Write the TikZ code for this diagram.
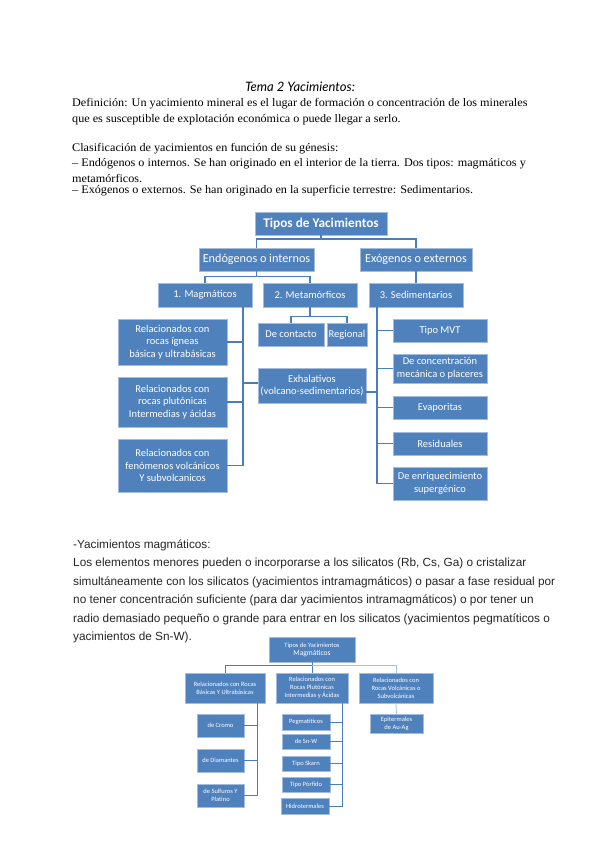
\documentclass[tikz,border=0pt]{standalone}
\usepackage{fontspec}
\setmainfont{Liberation Serif}
\newfontfamily\bodyf[FakeStretch=1.05]{Liberation Serif}
\newfontfamily\diagf{Carlito}
\newfontfamily\arialf{Liberation Sans}
\newfontfamily\titlef{Lato}
\usetikzlibrary{calc}
\definecolor{boxblue}{HTML}{4F81BD}
\definecolor{lineblue}{HTML}{4A7EBB}
\definecolor{edgeblue}{HTML}{A3BCDD}
\definecolor{paleline}{HTML}{A8BFDD}
\begin{document}
\begin{tikzpicture}[x=1pt,y=-1pt,
  bx/.style={fill=boxblue,draw=edgeblue,line width=0.7pt,text=white,inner sep=0.5pt,align=center},
  lvA/.style={bx,font=\diagf\bfseries\fontsize{13.3}{15}\selectfont},
  lvB/.style={bx,font=\diagf\fontsize{12.2}{14}\selectfont},
  lvC/.style={bx,font=\diagf\fontsize{10.5}{12.6}\selectfont},
  lvD/.style={bx,line width=0.5pt,font=\diagf\fontsize{6.5}{8}\selectfont},
  conn/.style={draw=lineblue,line width=1.3pt},
  connb/.style={draw=lineblue,line width=0.8pt},
  connp/.style={draw=paleline,line width=0.8pt},
  bodyline/.style={anchor=west,inner sep=0pt,font=\bodyf\fontsize{11.6}{13}\selectfont},
  arialline/.style={anchor=west,inner sep=0pt,font=\arialf\fontsize{11.8}{14}\selectfont,text=black!85},
]
\useasboundingbox[fill=white] (0,0) rectangle (599,848);

% ---------- title and first text ----------
\node[font=\titlef\itshape\fontsize{13}{15}\selectfont] (title) at (300,87) {Tema 2 Yacimientos:};
\node[bodyline] (t1) at (72,104) {Definición: Un yacimiento mineral es el lugar de formación o concentración de los minerales};
\node[bodyline] (t2) at (72,120) {que es susceptible de explotación económica o puede llegar a serlo.};
\node[bodyline] (t3) at (72,149) {Clasificación de yacimientos en función de su génesis:};
\node[bodyline] (t4) at (72,164) {– Endógenos o internos. Se han originado en el interior de la tierra. Dos tipos: magmáticos y};
\node[bodyline] (t5) at (72,178) {metamórficos.};
\node[bodyline] (t6) at (72,191) {– Exógenos o externos. Se han originado en la superficie terrestre: Sedimentarios.};

% ---------- diagram 1 ----------
\node[lvA,minimum width=132,minimum height=23] (tipos) at (321,223.5) {Tipos de Yacimientos};
\node[lvB,minimum width=115,minimum height=23] (endo) at (256.5,259.5) {Endógenos o internos};
\node[lvB,minimum width=112,minimum height=23] (exo) at (416,259.5) {Exógenos o externos};
\node[lvC,minimum width=94,minimum height=24] (mag) at (205,295) {1. Magmáticos};
\node[lvC,minimum width=94,minimum height=24] (meta) at (310,295) {2. Metamórficos};
\node[lvC,minimum width=94,minimum height=24] (sed) at (416,295) {3. Sedimentarios};
\node[lvC,minimum width=66,minimum height=23] (contacto) at (291,334.5) {De contacto};
\node[lvC,minimum width=40,minimum height=23] (regional) at (347,334.5) {Regional};
\node[lvC,minimum width=108,minimum height=35] (exhal) at (312,385.5) {Exhalativos\\(volcano-sedimentarios)};
\node[lvC,minimum width=109,minimum height=46] (rel1) at (172.5,342) {Relacionados con\\rocas ígneas\\básica y ultrabásicas};
\node[lvC,minimum width=109,minimum height=50] (rel2) at (172.5,402) {Relacionados con\\rocas plutónicas\\Intermedias y ácidas};
\node[lvC,minimum width=109,minimum height=53] (rel3) at (172.5,465.5) {Relacionados con\\fenómenos volcánicos\\Y subvolcanicos};
\node[lvC,minimum width=94,minimum height=23] (mvt) at (440,330.5) {Tipo MVT};
\node[lvC,minimum width=94,minimum height=29] (conc) at (440,368.5) {De concentración\\mecánica o placeres};
\node[lvC,minimum width=94,minimum height=23] (evap) at (440,407.5) {Evaporitas};
\node[lvC,minimum width=94,minimum height=23] (resid) at (440,443.5) {Residuales};
\node[lvC,minimum width=94,minimum height=33] (enriq) at (440,483.5) {De enriquecimiento\\supergénico};

\draw[conn] (tipos.south) -- ++(0,3.5) coordinate (tj);
\draw[conn] (tj) -| (endo.north);
\draw[conn] (tj) -| (exo.north);
\draw[conn] (endo.south) -- ++(0,5) coordinate (ej);
\draw[conn] (ej) -| (mag.north);
\draw[conn] (ej) -| (meta.north);
\draw[conn] (exo.south) -- (sed.north);
\draw[conn] (meta.south) -- ++(0,9) coordinate (mj);
\draw[conn] (mj) -| (contacto.north);
\draw[conn] (mj) -| (regional.north);

\coordinate (mv) at (243,307);
\draw[conn] (mv) |- (rel3.east);
\draw[conn] (rel1.east) -- (rel1.east -| mv);
\draw[conn] (rel2.east) -- (rel2.east -| mv);
\coordinate (exL) at ($(exhal.west)+(0,-2.5)$);
\draw[conn] (exL) -- (exL -| mv);

\coordinate (sv) at (377,307);
\draw[conn] (sv) |- (enriq.west);
\draw[conn] (mvt.west) -- (mvt.west -| sv);
\draw[conn] (conc.west) -- (conc.west -| sv);
\draw[conn] (evap.west) -- (evap.west -| sv);
\draw[conn] (resid.west) -- (resid.west -| sv);
\coordinate (exR) at ($(exhal.east)+(0,6.5)$);
\draw[conn] (exR) -- (exR -| sv);

% ---------- second text ----------
\node[arialline] (p1) at (73,545) {-Yacimientos magmáticos:};
\node[arialline] (p2) at (73,563) {Los elementos menores pueden o incorporarse a los silicatos (Rb, Cs, Ga) o cristalizar};
\node[arialline] (p3) at (73,582) {simultáneamente con los silicatos (yacimientos intramagmáticos) o pasar a fase residual por};
\node[arialline] (p4) at (73,600) {no tener concentración suficiente (para dar yacimientos intramagmáticos) o por tener un};
\node[arialline] (p5) at (73,619) {radio demasiado pequeño o grande para entrar en los silicatos (yacimientos pegmatíticos o};
\node[arialline] (p6) at (73,637) {yacimientos de Sn-W).};

% ---------- diagram 2 ----------
\node[lvD,minimum width=86,minimum height=25] (top2) at (312,649.5) {Tipos de Yacimientos\\{\fontsize{7.5}{9}\selectfont Magmáticos}};
\node[lvD,minimum width=80,minimum height=30] (r1) at (225,688) {Relacionados con Rocas\\Básicas Y Ultrabásicas};
\node[lvD,minimum width=72,minimum height=30] (r2) at (312,688) {Relacionados con\\Rocas Plutónicas\\Intermedias y Ácidas};
\node[lvD,minimum width=74,minimum height=30] (r3) at (396,688) {Relacionados con\\Rocas Volcánicas o\\Subvolcánicas};
\node[lvD,minimum width=47,minimum height=23] (cromo) at (220.5,725.5) {de Cromo};
\node[lvD,minimum width=47,minimum height=23] (diam) at (220.5,760.5) {de Diamantes};
\node[lvD,minimum width=47,minimum height=23] (sulf) at (220.5,795.5) {de Sulfuros Y\\Platino};
\node[lvD,minimum width=48,minimum height=16] (peg) at (306,722) {Pegmatíticos};
\node[lvD,minimum width=48,minimum height=15] (snw) at (306,741.5) {de Sn-W};
\node[lvD,minimum width=48,minimum height=15] (skarn) at (306,763.5) {Tipo Skarn};
\node[lvD,minimum width=48,minimum height=15] (porf) at (306,784.5) {Tipo Pórfido};
\node[lvD,minimum width=48,minimum height=16] (hidro) at (305,806) {Hidrotermales};
\node[lvD,minimum width=53,minimum height=19] (epit) at (396.5,723.5) {Epitermales\\de Au-Ag};

\draw[connb] (top2.south) -- ++(0,3) coordinate (uj);
\draw[connb] (uj) -| (r1.north);
\draw[connb] (uj) -- (r2.north);
\draw[connp] (uj) -| (r3.north);
\coordinate (lv) at (257,703);
\draw[connb] (lv) |- (sulf.east);
\draw[connb] (cromo.east) -- (cromo.east -| lv);
\draw[connb] (diam.east) -- (diam.east -| lv);
\coordinate (mv2) at (342,703);
\draw[connb] (mv2) |- (hidro.east);
\draw[connb] (peg.east) -- (peg.east -| mv2);
\draw[connb] (snw.east) -- (snw.east -| mv2);
\draw[connb] (skarn.east) -- (skarn.east -| mv2);
\draw[connb] (porf.east) -- (porf.east -| mv2);
\draw[connp] (r3.south) -- (epit.north);
\end{tikzpicture}
\end{document}
